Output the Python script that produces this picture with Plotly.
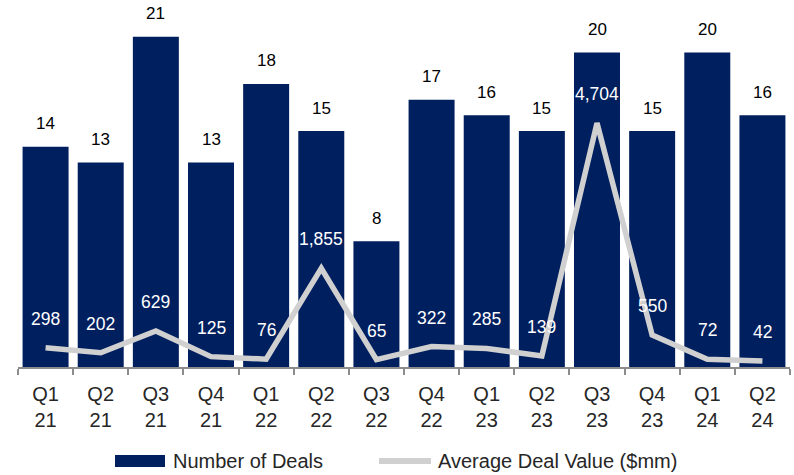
import plotly.graph_objects as go

quarters = ["Q1<br>21", "Q2<br>21", "Q3<br>21", "Q4<br>21", "Q1<br>22", "Q2<br>22", "Q3<br>22",
            "Q4<br>22", "Q1<br>23", "Q2<br>23", "Q3<br>23", "Q4<br>23", "Q1<br>24", "Q2<br>24"]
num_deals = [14, 13, 21, 13, 18, 15, 8, 17, 16, 15, 20, 15, 20, 16]
avg_value = [298, 202, 629, 125, 76, 1855, 65, 322, 285, 139, 4704, 550, 72, 42]
legend_labels = ["Number of Deals", "Average Deal Value ($mm)"]

NAVY = "#001F5F"
GRAY = "#D0D0D0"
FONT = "Liberation Sans, Arial, sans-serif"

fig = go.Figure()
fig.add_trace(go.Bar(x=quarters, y=num_deals, marker=dict(color=NAVY, line=dict(width=0)),
                     name=legend_labels[0], showlegend=False, hoverinfo="skip"))
fig.add_trace(go.Scatter(x=quarters, y=avg_value, mode="lines", yaxis="y2",
                         line=dict(color=GRAY, width=5.5), name=legend_labels[1],
                         showlegend=False, hoverinfo="skip"))

annotations = []
for q, v in zip(quarters, num_deals):
    annotations.append(dict(x=q, y=v, xref="x", yref="y", text=str(v), showarrow=False,
                            yanchor="middle", yshift=23,
                            font=dict(family=FONT, size=17, color="#000000")))
for q, v in zip(quarters, avg_value):
    annotations.append(dict(x=q, y=v, xref="x", yref="y2", text=f"{v:,}", showarrow=False,
                            yanchor="middle", yshift=29,
                            font=dict(family=FONT, size=17.5, color="#FFFFFF")))

# manual legend (pixel positions converted to paper coords)
W, H = 794, 475
L, R, T, B = 18, 4, 10, 108
def px(xp):
    return (xp - L) / (W - R - L)
def py(yp):
    return (H - B - yp) / (H - B - T)

shapes = [
    dict(type="rect", xref="paper", yref="paper", x0=px(115), x1=px(165), y0=py(467), y1=py(455),
         fillcolor=NAVY, line=dict(width=0)),
    dict(type="line", xref="paper", yref="paper", x0=px(379), x1=px(431), y0=py(461), y1=py(461),
         line=dict(color=GRAY, width=6)),
]
annotations.append(dict(x=px(171), y=py(461), xref="paper", yref="paper", text=legend_labels[0],
                        showarrow=False, xanchor="left", yanchor="middle",
                        font=dict(family=FONT, size=20, color="#262626")))
annotations.append(dict(x=px(436), y=py(461), xref="paper", yref="paper", text=legend_labels[1],
                        showarrow=False, xanchor="left", yanchor="middle",
                        font=dict(family=FONT, size=20, color="#262626")))

fig.update_layout(
    width=W, height=H,
    margin=dict(l=L, r=R, t=T, b=B),
    paper_bgcolor="white", plot_bgcolor="white",
    bargap=0.166,
    showlegend=False,
    xaxis=dict(type="category", range=[-0.5, 13.5], showgrid=False, zeroline=False,
               showline=True, linecolor="#8C8C8C", linewidth=2,
               ticks="outside", tickson="boundaries", ticklen=6, tickcolor="#8C8C8C", tickwidth=2,
               tickfont=dict(family=FONT, size=20, color="#262626"), ticklabelstandoff=8),
    yaxis=dict(range=[0, 22.7], visible=False, showgrid=False),
    yaxis2=dict(range=[-78, 6919], overlaying="y", visible=False, showgrid=False),
    annotations=annotations,
    shapes=shapes,
)

fig.write_html("out.html", config={"displayModeBar": False},
               post_script="document.body.style.margin='0';document.body.style.padding='0';")
